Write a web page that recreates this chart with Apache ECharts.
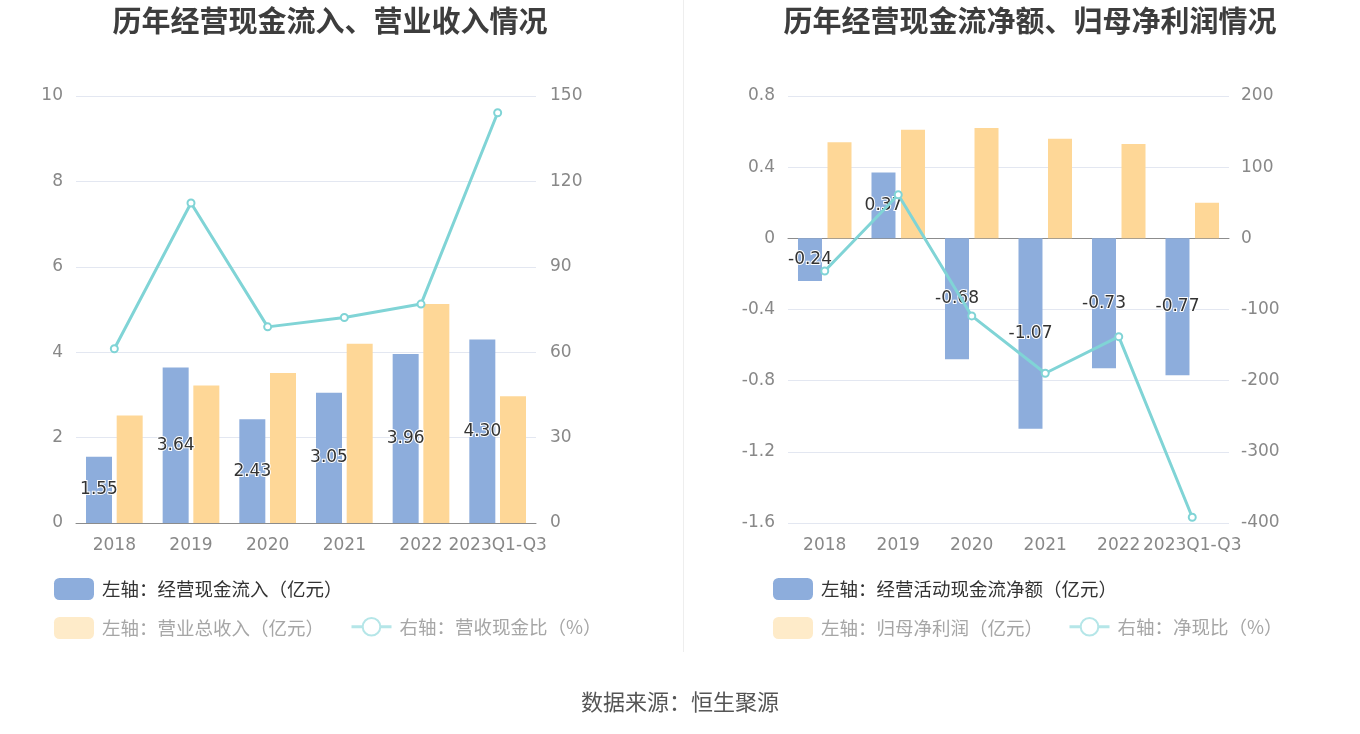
<!DOCTYPE html>
<html>
<head>
<meta charset="utf-8">
<script src="https://cdn.jsdelivr.net/npm/echarts@6/dist/echarts.min.js"></script>
<style>
html,body{margin:0;padding:0;background:#fff;}
#main{width:1360px;height:734px;}
</style>
</head>
<body>
<div id="main"></div>
<script>
// ---- data ----
const categories = ['2018', '2019', '2020', '2021', '2022', '2023Q1-Q3'];
// left chart
const cashInflow = [1.55, 3.64, 2.43, 3.05, 3.96, 4.30];      // 经营现金流入（亿元）
const revenue = [2.52, 3.22, 3.51, 4.20, 5.13, 2.97];         // 营业总收入（亿元）
const cashRatio = [61.2, 112.4, 68.9, 72.2, 76.9, 144.1];     // 营收现金比（%）
// right chart
const netCashFlow = [-0.24, 0.37, -0.68, -1.07, -0.73, -0.77]; // 经营活动现金流净额（亿元）
const netProfit = [0.54, 0.61, 0.62, 0.56, 0.53, 0.20];        // 归母净利润（亿元）
const netCashRatio = [-45.9, 61.2, -109.0, -189.6, -138.2, -391.9]; // 净现比（%）

const titles = ['历年经营现金流入、营业收入情况', '历年经营现金流净额、归母净利润情况'];
const names = {
  a1: '左轴：经营现金流入（亿元）', a2: '左轴：营业总收入（亿元）', a3: '右轴：营收现金比（%）',
  b1: '左轴：经营活动现金流净额（亿元）', b2: '左轴：归母净利润（亿元）', b3: '右轴：净现比（%）'
};
const sourceText = '数据来源：恒生聚源';

// ---- styles ----
const FONT = '"Noto Sans CJK SC", "Noto Sans", sans-serif';
const NUMFONT = '"DejaVu Sans", "Noto Sans CJK SC", sans-serif';
const BLUE = '#8daddc';
const YELLOW = '#fed797';
const CYAN = '#80d4d6';
const FADED_YELLOW = '#feebc9';
const FADED_CYAN = '#b5e6e8';
const AXIS_LABEL = { color: '#888', fontSize: 17, fontFamily: NUMFONT };
const GRID_LINE = { lineStyle: { color: '#e3e7f1', width: 1 } };
const barLabel = {
  show: true, position: 'inside', color: '#333', fontSize: 17, fontFamily: NUMFONT,
  textBorderColor: '#fff', textBorderWidth: 2,
  formatter: p => p.value.toFixed(2)
};

function legend(name, left, top, kind, active) {
  const item = { name: name };
  if (kind === 'bar') {
    item.itemStyle = { color: active ? BLUE : FADED_YELLOW };
    item.icon = 'roundRect';
  } else {
    item.itemStyle = { color: FADED_CYAN, borderColor: FADED_CYAN, borderWidth: 2 };
    item.lineStyle = { color: FADED_CYAN, width: 3 };
  }
  item.textStyle = { color: active ? '#333' : '#a6a6a6' };
  return {
    left: left, top: top, padding: 0, orient: 'horizontal', selectedMode: false,
    itemWidth: 40, itemHeight: 22,
    textStyle: { fontSize: 18.5, fontFamily: FONT, padding: [0, 0, 0, 3] },
    data: [item]
  };
}

const option = {
  animation: false,
  backgroundColor: '#fff',
  textStyle: { fontFamily: FONT },
  title: [
    { text: titles[0], left: 325, top: 1, textAlign: 'center',
      textStyle: { fontSize: 29, fontWeight: 'bold', color: '#3d3d3d', fontFamily: FONT } },
    { text: titles[1], left: 1025, top: 1, textAlign: 'center',
      textStyle: { fontSize: 29, fontWeight: 'bold', color: '#3d3d3d', fontFamily: FONT } },
    { text: sourceText, left: 675, top: 686, textAlign: 'center',
      textStyle: { fontSize: 22, fontWeight: 'normal', color: '#555', fontFamily: FONT } }
  ],
  graphic: [
    { type: 'line', shape: { x1: 683.5, y1: 0, x2: 683.5, y2: 652 },
      style: { stroke: '#eeeeee', lineWidth: 1 }, silent: true }
  ],
  legend: [
    legend(names.a1, 54, 578, 'bar', true),
    legend(names.a2, 54, 617, 'bar', false),
    legend(names.a3, 350, 617, 'line', false),
    legend(names.b1, 773, 578, 'bar', true),
    legend(names.b2, 773, 617, 'bar', false),
    legend(names.b3, 1068, 617, 'line', false)
  ],
  grid: [
    { left: 76, right: 824, top: 96, bottom: 211 },
    { left: 788, right: 131, top: 96, bottom: 211 }
  ],
  xAxis: [
    { type: 'category', gridIndex: 0, data: categories,
      axisLine: { lineStyle: { color: '#8c8c8c' } },
      axisTick: { alignWithLabel: true, length: 5, lineStyle: { color: '#8c8c8c' } },
      axisLabel: Object.assign({ interval: 0, margin: 14 }, AXIS_LABEL) },
    { type: 'category', gridIndex: 1, data: categories,
      axisLine: { show: false, onZero: false }, axisTick: { show: false },
      axisLabel: Object.assign({ interval: 0, margin: 14 }, AXIS_LABEL) },
    { type: 'category', gridIndex: 1, data: categories,
      axisLine: { onZero: true, onZeroAxisIndex: 2, lineStyle: { color: '#8c8c8c' } },
      axisTick: { alignWithLabel: true, length: 5, lineStyle: { color: '#8c8c8c' } },
      axisLabel: { show: false } }
  ],
  yAxis: [
    { type: 'value', gridIndex: 0, position: 'left', min: 0, max: 10, interval: 2,
      axisLine: { show: false }, axisTick: { show: false },
      axisLabel: Object.assign({ margin: 13 }, AXIS_LABEL), splitLine: GRID_LINE },
    { type: 'value', gridIndex: 0, position: 'right', min: 0, max: 150, interval: 30,
      axisLine: { show: false }, axisTick: { show: false },
      axisLabel: Object.assign({ margin: 14 }, AXIS_LABEL), splitLine: { show: false } },
    { type: 'value', gridIndex: 1, position: 'left', min: -1.6, max: 0.8, interval: 0.4,
      axisLine: { show: false }, axisTick: { show: false },
      axisLabel: Object.assign({ margin: 13 }, AXIS_LABEL), splitLine: GRID_LINE },
    { type: 'value', gridIndex: 1, position: 'right', min: -400, max: 200, interval: 100,
      axisLine: { show: false }, axisTick: { show: false },
      axisLabel: Object.assign({ margin: 12 }, AXIS_LABEL), splitLine: { show: false } }
  ],
  series: [
    { name: names.a1, type: 'bar', xAxisIndex: 0, yAxisIndex: 0, data: cashInflow,
      barWidth: 26, barGap: '18%', itemStyle: { color: BLUE }, label: barLabel, z: 2 },
    { name: names.a2, type: 'bar', xAxisIndex: 0, yAxisIndex: 0, data: revenue,
      barWidth: 26, barGap: '18%', itemStyle: { color: YELLOW }, z: 2 },
    { name: names.a3, type: 'line', xAxisIndex: 0, yAxisIndex: 1, data: cashRatio,
      symbol: 'emptyCircle', symbolSize: 7, itemStyle: { color: CYAN, borderWidth: 2 },
      lineStyle: { color: CYAN, width: 3 }, z: 5 },
    { name: names.b1, type: 'bar', xAxisIndex: 2, yAxisIndex: 2, data: netCashFlow,
      barWidth: 24, barGap: '23%', itemStyle: { color: BLUE }, label: barLabel, z: 2 },
    { name: names.b2, type: 'bar', xAxisIndex: 2, yAxisIndex: 2, data: netProfit,
      barWidth: 24, barGap: '23%', itemStyle: { color: YELLOW }, z: 2 },
    { name: names.b3, type: 'line', xAxisIndex: 2, yAxisIndex: 3, data: netCashRatio,
      symbol: 'emptyCircle', symbolSize: 7, itemStyle: { color: CYAN, borderWidth: 2 },
      lineStyle: { color: CYAN, width: 3 }, z: 5 }
  ]
};

const chart = echarts.init(document.getElementById('main'), null, { renderer: 'canvas', width: 1360, height: 734 });
chart.setOption(option);
</script>
</body>
</html>
